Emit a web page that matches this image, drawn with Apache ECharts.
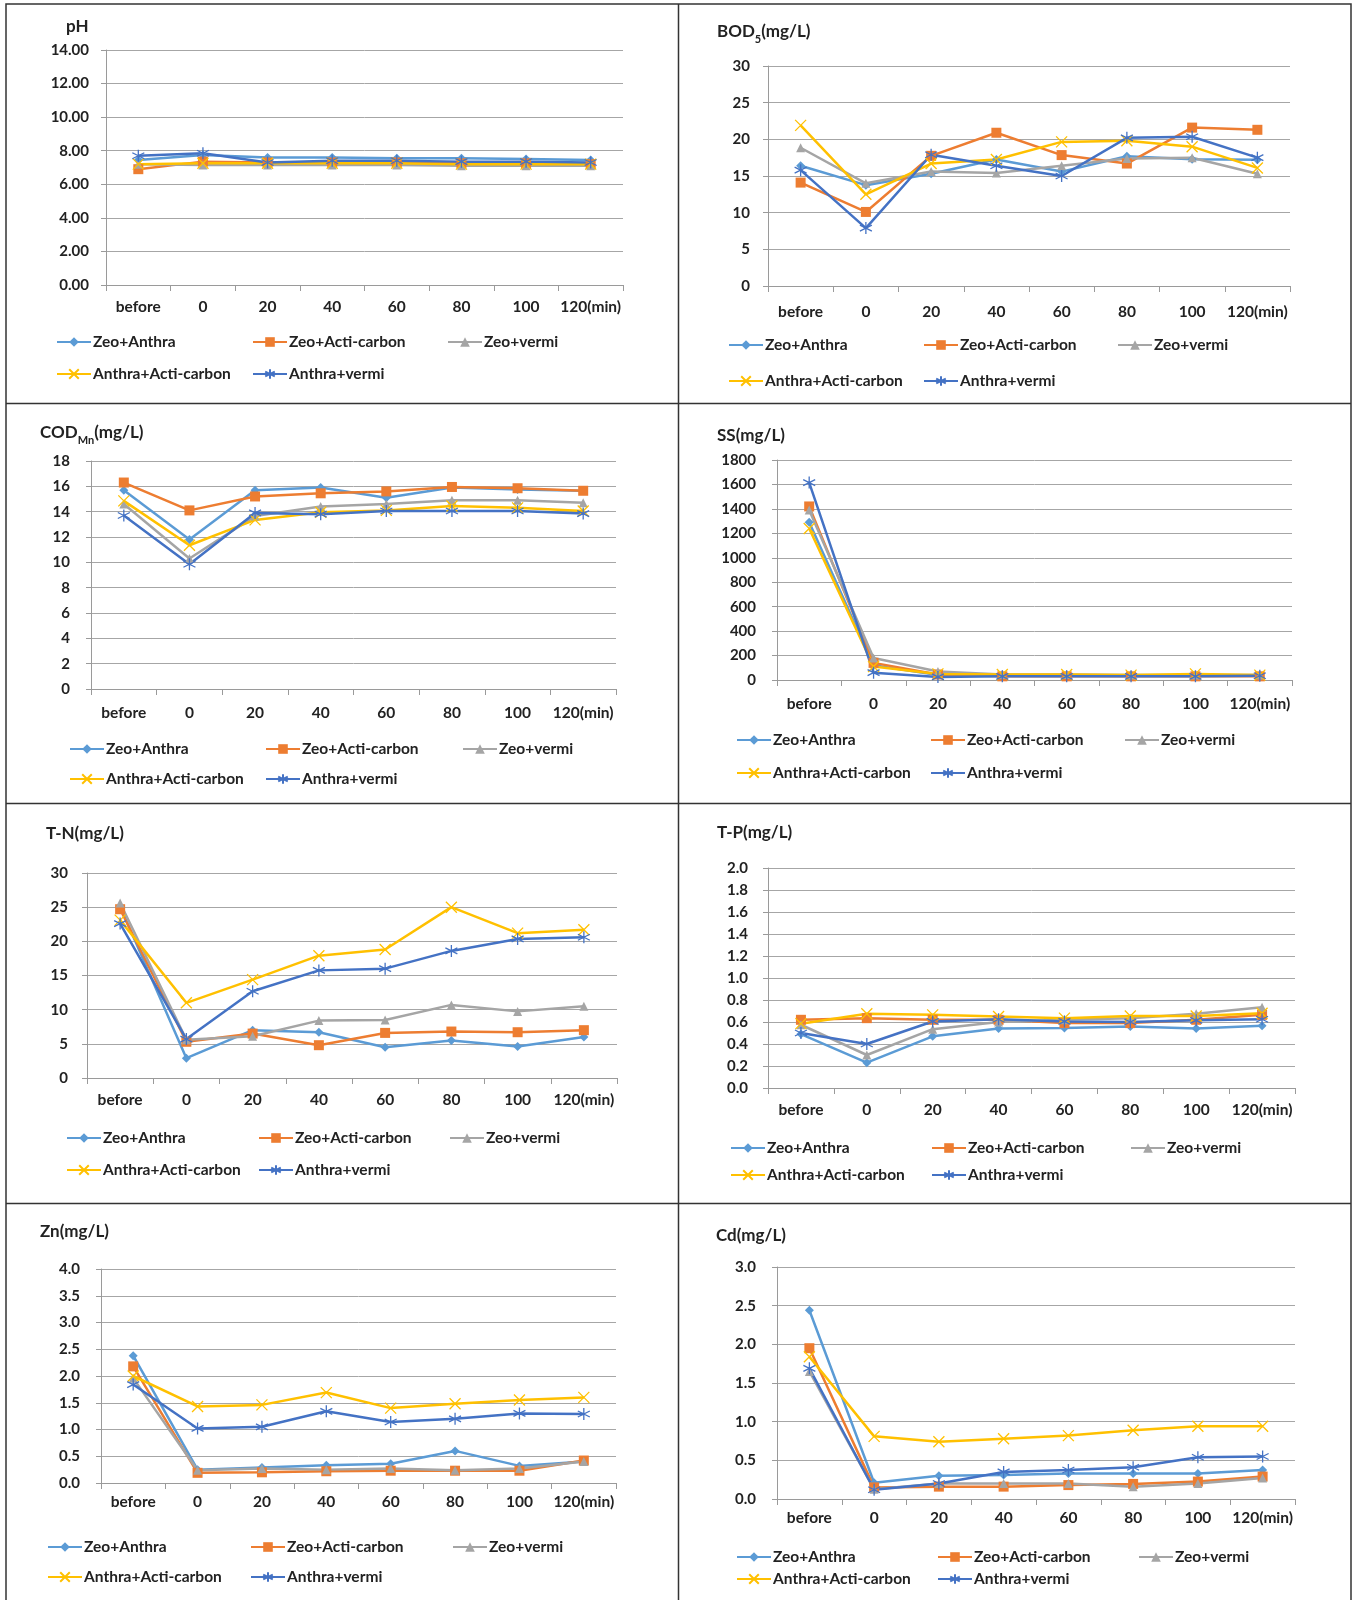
<!DOCTYPE html>
<html><head><meta charset="utf-8">
<script src="https://cdn.jsdelivr.net/npm/echarts@6/dist/echarts.min.js"></script>
<style>html,body{margin:0;padding:0;background:#fff}#c{width:1353px;height:1600px}</style>
</head><body><div id="c"></div>
<script>
// ---------- DATA ----------
const categories = ['before', '0', '20', '40', '60', '80', '100', '120(min)'];
const seriesNames = ['Zeo+Anthra', 'Zeo+Acti-carbon', 'Zeo+vermi', 'Anthra+Acti-carbon', 'Anthra+vermi'];

// each row: one series in the order of seriesNames
const phValues = [
  [7.45, 7.75, 7.6, 7.6, 7.55, 7.55, 7.5, 7.45],
  [6.9, 7.35, 7.3, 7.3, 7.3, 7.25, 7.25, 7.2],
  [7.2, 7.15, 7.15, 7.15, 7.15, 7.1, 7.1, 7.1],
  [7.2, 7.25, 7.25, 7.25, 7.25, 7.2, 7.2, 7.2],
  [7.7, 7.85, 7.3, 7.4, 7.4, 7.35, 7.35, 7.3]
];
const bodValues = [
  [16.4, 13.75, 15.3, 17.25, 15.6, 17.7, 17.3, 17.2],
  [14.1, 10.1, 17.75, 20.9, 17.85, 16.7, 21.6, 21.3],
  [18.85, 14.0, 15.6, 15.4, 16.4, 17.4, 17.5, 15.3],
  [21.9, 12.5, 16.7, 17.25, 19.65, 19.8, 19.0, 16.1],
  [15.8, 7.9, 17.9, 16.4, 15.0, 20.2, 20.35, 17.5]
];
const codValues = [
  [15.7, 11.8, 15.7, 15.9, 15.1, 15.9, 15.75, 15.65],
  [16.3, 14.1, 15.2, 15.45, 15.6, 15.95, 15.85, 15.65],
  [14.6, 10.3, 13.65, 14.4, 14.6, 14.9, 14.9, 14.7],
  [14.85, 11.35, 13.35, 13.95, 14.1, 14.45, 14.3, 14.05],
  [13.7, 9.85, 13.9, 13.8, 14.05, 14.05, 14.05, 13.85]
];
const ssValues = [
  [1290, 120, 40, 35, 35, 35, 35, 35],
  [1420, 140, 45, 30, 30, 30, 30, 30],
  [1390, 180, 70, 45, 45, 40, 40, 40],
  [1240, 110, 50, 45, 45, 40, 50, 40],
  [1615, 60, 25, 30, 30, 30, 30, 35]
];
const tnValues = [
  [25.1, 2.9, 7.0, 6.7, 4.5, 5.5, 4.6, 6.0],
  [24.7, 5.3, 6.5, 4.8, 6.6, 6.8, 6.7, 7.0],
  [25.6, 5.6, 6.1, 8.4, 8.5, 10.7, 9.75, 10.5],
  [23.1, 11.0, 14.4, 17.9, 18.8, 25.0, 21.2, 21.7],
  [22.6, 5.7, 12.7, 15.75, 16.0, 18.6, 20.35, 20.6]
];
const tpValues = [
  [0.49, 0.23, 0.47, 0.54, 0.545, 0.56, 0.54, 0.565],
  [0.62, 0.635, 0.62, 0.62, 0.59, 0.59, 0.62, 0.665],
  [0.575, 0.30, 0.535, 0.6, 0.62, 0.635, 0.675, 0.735],
  [0.585, 0.675, 0.665, 0.65, 0.635, 0.655, 0.655, 0.68],
  [0.5, 0.4, 0.605, 0.625, 0.605, 0.6, 0.615, 0.625]
];
const znValues = [
  [2.38, 0.25, 0.29, 0.33, 0.36, 0.60, 0.32, 0.40],
  [2.18, 0.19, 0.20, 0.22, 0.23, 0.23, 0.23, 0.42],
  [1.96, 0.24, 0.27, 0.25, 0.27, 0.24, 0.27, 0.40],
  [2.0, 1.43, 1.46, 1.69, 1.40, 1.48, 1.55, 1.60],
  [1.84, 1.02, 1.05, 1.34, 1.14, 1.20, 1.30, 1.29]
];
const cdValues = [
  [2.44, 0.21, 0.30, 0.31, 0.33, 0.33, 0.33, 0.375],
  [1.95, 0.15, 0.16, 0.16, 0.18, 0.195, 0.225, 0.29],
  [1.65, 0.125, 0.20, 0.20, 0.20, 0.16, 0.20, 0.27],
  [1.84, 0.81, 0.74, 0.78, 0.82, 0.89, 0.94, 0.94],
  [1.69, 0.12, 0.20, 0.35, 0.375, 0.41, 0.54, 0.55]
];
const panelValues = [phValues, bodValues, codValues, ssValues, tnValues, tpValues, znValues, cdValues];

// y-axis scales and tick label formats
const yMax = [14, 30, 18, 1800, 30, 2.0, 4.0, 3.0];
const yStep = [2, 5, 2, 200, 5, 0.2, 0.5, 0.5];
const yDecimals = [2, 0, 0, 0, 0, 1, 1, 1];
const titles = [
  ['pH', '', ''],
  ['BOD', '5', '(mg/L)'],
  ['COD', 'Mn', '(mg/L)'],
  ['SS(mg/L)', '', ''],
  ['T-N(mg/L)', '', ''],
  ['T-P(mg/L)', '', ''],
  ['Zn(mg/L)', '', ''],
  ['Cd(mg/L)', '', '']
];

// ---------- LAYOUT / STYLE ----------
const FONT = 'Lato, "Open Sans", sans-serif';
const TXT = '#222222';
const colors = ['#5B9BD5', '#ED7D31', '#A5A5A5', '#FFC000', '#4472C4'];
const symbols = ['diamond', 'rect', 'triangle',
  'path://M0,0L10,10M10,0L0,10',
  'path://M5,0L5,10M0.7,2.5L9.3,7.5M0.7,7.5L9.3,2.5'];
const symbolSizes = [9, 10, 9, 11, 12];

// [left, top, right, bottom] of plot, x-label margin, y-label margin, title pos, legend rows, legend cols
const layout = [
  {g: [106, 50, 623, 285], xm: 14, ym: 17, t: [66, 27], rows: [342, 374], cols: [56, 252, 447]},
  {g: [768, 66, 1290, 286], xm: 18, ym: 18, t: [717, 32], rows: [345, 381], cols: [728, 923, 1117]},
  {g: [91, 461, 616, 689], xm: 16, ym: 21, t: [40, 433], rows: [749, 779], cols: [69, 265, 462]},
  {g: [777, 460, 1292, 680], xm: 16, ym: 21, t: [717, 436], rows: [740, 773], cols: [736, 930, 1124]},
  {g: [87, 873, 617, 1078], xm: 14, ym: 19, t: [46, 834], rows: [1138, 1170], cols: [66, 258, 449]},
  {g: [768, 868, 1295, 1088], xm: 14, ym: 20, t: [717, 833], rows: [1148, 1175], cols: [730, 931, 1130]},
  {g: [101, 1269, 616, 1483], xm: 11, ym: 21, t: [40, 1232], rows: [1547, 1577], cols: [47, 250, 452]},
  {g: [777, 1267, 1295, 1499], xm: 11, ym: 21, t: [716, 1236], rows: [1557, 1579], cols: [736, 937, 1138]}
];

const grids = [], xAxes = [], yAxes = [], series = [], legends = [], titleComps = [];
layout.forEach((L, i) => {
  grids.push({left: L.g[0], top: L.g[1], width: L.g[2] - L.g[0], height: L.g[3] - L.g[1], containLabel: false});
  xAxes.push({
    type: 'category', gridIndex: i, data: categories, boundaryGap: true,
    axisLine: {lineStyle: {color: '#9a9a9a', width: 1}},
    axisTick: {show: true, length: 6, lineStyle: {color: '#9a9a9a'}},
    axisLabel: {color: TXT, fontFamily: FONT, fontWeight: 'bold', fontSize: 15.5, margin: L.xm, interval: 0}
  });
  yAxes.push({
    type: 'value', gridIndex: i, min: 0, max: yMax[i], interval: yStep[i],
    axisLine: {show: true, lineStyle: {color: '#9a9a9a', width: 1}},
    axisTick: {show: true, length: 5, lineStyle: {color: '#9a9a9a'}},
    splitLine: {show: true, lineStyle: {color: '#a6a6a6', width: 1}},
    axisLabel: {color: TXT, fontFamily: FONT, fontWeight: 'bold', fontSize: 15, margin: L.ym,
      formatter: (v) => Number(v).toFixed(yDecimals[i])}
  });
  panelValues[i].forEach((vals, k) => {
    const pathSym = k >= 3;
    series.push({
      name: seriesNames[k], type: 'line', xAxisIndex: i, yAxisIndex: i, data: vals,
      symbol: symbols[k], symbolSize: symbolSizes[k], showSymbol: true,
      lineStyle: {color: colors[k], width: 2.5},
      itemStyle: pathSym ? {color: colors[k], borderColor: colors[k], borderWidth: 1.3} : {color: colors[k]},
      animation: false, silent: true
    });
  });
  seriesNames.forEach((nm, k) => {
    const col = k < 3 ? k : k - 3;
    const row = k < 3 ? 0 : 1;
    legends.push({
      data: [nm], left: L.cols[col], top: L.rows[row] - 8, itemWidth: 34, itemHeight: 12, itemGap: 0,
      selectedMode: false, padding: 0,
      textStyle: {color: TXT, fontFamily: FONT, fontWeight: 'bold', fontSize: 15.5, padding: [0, 0, 0, -3]}
    });
  });
  const tt = titles[i];
  let text;
  if (tt[1]) text = '{b|' + tt[0] + '}{s|' + tt[1] + '}{b|' + tt[2] + '}';
  else text = '{b|' + tt[0] + '}';
  titleComps.push({
    text: text, left: L.t[0], top: L.t[1] - 9, padding: 0,
    textStyle: {
      rich: {
        b: {fontFamily: FONT, fontWeight: 'bold', fontSize: 17, color: TXT, lineHeight: 24, verticalAlign: 'top'},
        s: {fontFamily: FONT, fontWeight: 'bold', fontSize: 11, color: TXT, lineHeight: 24, verticalAlign: 'bottom', padding: [0, 0, 2, 0]}
      }
    }
  });
});

const borderColor = '#333';
const graphic = [
  {type: 'rect', shape: {x: 6, y: 4, width: 1345, height: 1610}, style: {fill: 'none', stroke: borderColor, lineWidth: 1.5}, silent: true},
  {type: 'line', shape: {x1: 678.5, y1: 4, x2: 678.5, y2: 1600}, style: {stroke: borderColor, lineWidth: 1.5}, silent: true},
  {type: 'line', shape: {x1: 6, y1: 403.5, x2: 1351, y2: 403.5}, style: {stroke: borderColor, lineWidth: 1.5}, silent: true},
  {type: 'line', shape: {x1: 6, y1: 803.5, x2: 1351, y2: 803.5}, style: {stroke: borderColor, lineWidth: 1.5}, silent: true},
  {type: 'line', shape: {x1: 6, y1: 1203.5, x2: 1351, y2: 1203.5}, style: {stroke: borderColor, lineWidth: 1.5}, silent: true}
];

const chart = echarts.init(document.getElementById('c'), null, {renderer: 'canvas'});
chart.setOption({
  animation: false,
  backgroundColor: '#fff',
  title: titleComps,
  legend: legends,
  grid: grids,
  xAxis: xAxes,
  yAxis: yAxes,
  series: series,
  graphic: graphic
});
</script>
</body></html>
